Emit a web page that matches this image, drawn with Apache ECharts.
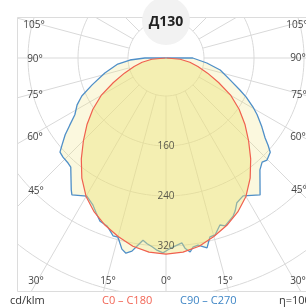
<!DOCTYPE html>
<html><head><meta charset="utf-8">
<script src="https://cdn.jsdelivr.net/npm/echarts@6/dist/echarts.min.js"></script>
<style>html,body{margin:0;padding:0;background:#fff}#c{width:306px;height:307px}</style>
</head><body><div id="c"></div>
<script>
// ---- data (angle in degrees: 0 = down, + = left, - = right; value in cd/klm) ----
const ringValues = [80, 160, 240, 320, 400, 480];
const ringLabels = [160, 240, 320];
const spokeAngles = [-165,-150,-135,-120,-105,-90,-75,-60,-45,-30,-15,0,15,30,45,60,75,90,105,120,135,150,165,180];
const angleTickLabels = ['105°','90°','75°','60°','45°','30°','15°','0°','15°','30°','45°','60°','75°','90°','105°'];

const redAngles = [90,85,80,75,70,65,60,55,50,45,40,35,30,25,20,15,10,5,0,-5,-10,-15,-20,-25,-30,-35,-40,-45,-50,-55,-60,-65,-70,-75,-80,-85,-90];
const redValues = [20,42,58,72,90,112,139,162,184,206,230,254,275,291,304,315,325,331,333,331,325,315,304,291,275,254,230,206,184,162,139,112,90,72,58,42,20];

const blueAngles = [180,90,86.8,82.9,76.2,70,65.7,62.2,58.1,55.1,52.7,50.1,48.4,46.1,43,41.1,35.7,34.5,29.8,26.4,24.3,22,19.3,17.9,16.6,15,13,11.6,10,8.8,7.2,5.8,4.2,2.7,0.9,0,
  -0.6,-2.1,-4.9,-5.7,-7.1,-8.1,-9.7,-12.2,-13.8,-15.5,-17.9,-19.4,-23,-24.3,-26.1,-29.2,-34.5,-40,-42.7,-44.7,-47.9,-49.5,-51.1,-54.3,-58.1,-60.6,-64,-66.6,-71,-77.5,-83,-90,-180];
const blueValues = [19.2,53,77,97,120,145,167,180,191,207,222,236,246,248,249,251,279,285,274,282,291,301,304,310,316,316,333,338,333,324,313,318,322,327,331,328,
  326,322,316,325,332,325,323,330,314,313,300,304,294,288,277,272,285,253,246,249,244,234,223,208,191,179,162,148,128,108,85,62,19.2];

const RMIN = 19.2, RMAX = 499.2;

const chart = echarts.init(document.getElementById('c'), null, {renderer:'canvas'});
const gridColor = '#d9d9d9';
const series = [];
// rings
ringValues.forEach(v => {
  const d = [];
  for (let a = -180; a <= 180; a += 2) d.push([v, a]);
  series.push({type:'line', coordinateSystem:'polar', data:d, symbol:'none', silent:true,
    lineStyle:{color:gridColor, width:1}, z:1, clip:false, animation:false});
});
// spokes
spokeAngles.forEach(a => {
  series.push({type:'line', coordinateSystem:'polar', data:[[80,a],[RMAX,a]], symbol:'none', silent:true,
    lineStyle:{color:gridColor, width:1}, z:1, animation:false});
});
series.push({type:'line', coordinateSystem:'polar', data: blueAngles.map((a,i)=>[blueValues[i], a]),
  symbol:'none', lineStyle:{color:'#4f8fc8', width:1.3}, areaStyle:{color:'rgba(238,228,120,0.35)'}, z:3, animation:false});
series.push({type:'line', coordinateSystem:'polar', data: redAngles.map((a,i)=>[redValues[i], a]),
  symbol:'none', lineStyle:{color:'#f0604f', width:1.2}, areaStyle:{color:'rgba(236,226,120,0.6)'}, z:4, animation:false});
series.push({type:'scatter', coordinateSystem:'polar', data: ringLabels.map(v=>[v,0]), symbolSize:0, z:6,
  label:{show:true, position:'inside', formatter:p=>String(p.value[0]), color:'#333', fontSize:10, fontFamily:'Open Sans'}, animation:false});

const labelPos = [[34,25],[35,59],[35,95],[35,137],[36,191],[36,281],[108,281],[166,281],[225,281],[298,281],[299,190],[298,137],[299,95],[298,58],[297,25]];
const txt = (x,y,s,color,size,weight,align) => ({type:'text', x:x, y:y, z:100,
  style:{text:s, fill:color, fontSize:size, fontFamily:'Open Sans', fontWeight:weight||'normal', align:align||'center', verticalAlign:'middle'}});
const graphics = [
  {type:'rect', shape:{x:0,y:0,width:17,height:307}, style:{fill:'#fff'}, z:90},
  {type:'rect', shape:{x:0,y:0,width:306,height:17}, style:{fill:'#fff'}, z:90},
  {type:'rect', shape:{x:0,y:291,width:306,height:16}, style:{fill:'#fff'}, z:90},
  {type:'polyline', shape:{points:[[306,17.5],[17.5,17.5],[17.5,291.5],[306,291.5]]}, style:{stroke:'#dcdcdc', lineWidth:1, fill:null}, z:91},
  {type:'circle', shape:{cx:166, cy:21, r:24}, style:{fill:'#f2f2f2'}, z:92},
  txt(166,22,'Д130','#222',14,'bold'),
  txt(10,301,'cd/klm','#333',11,'normal','left'),
  txt(102,301,'C0 – C180','#f26555',11,'normal','left'),
  txt(180,301,'C90 – C270','#3f86c6',11,'normal','left'),
  txt(279,301,'η=100%','#333',11,'normal','left')
];
labelPos.forEach((p,i)=>graphics.push(txt(p[0],p[1],angleTickLabels[i],'#444',10)));

chart.setOption({
  animation:false,
  polar:{center:[166,58], radius:300},
  angleAxis:{type:'value', min:-180, max:180, startAngle:90, clockwise:true,
    axisLine:{show:false}, axisTick:{show:false}, axisLabel:{show:false}, splitLine:{show:false}},
  radiusAxis:{type:'value', min:RMIN, max:RMAX,
    axisLine:{show:false}, axisTick:{show:false}, axisLabel:{show:false}, splitLine:{show:false}},
  series: series,
  graphic:{elements:graphics}
});
</script></body></html>
